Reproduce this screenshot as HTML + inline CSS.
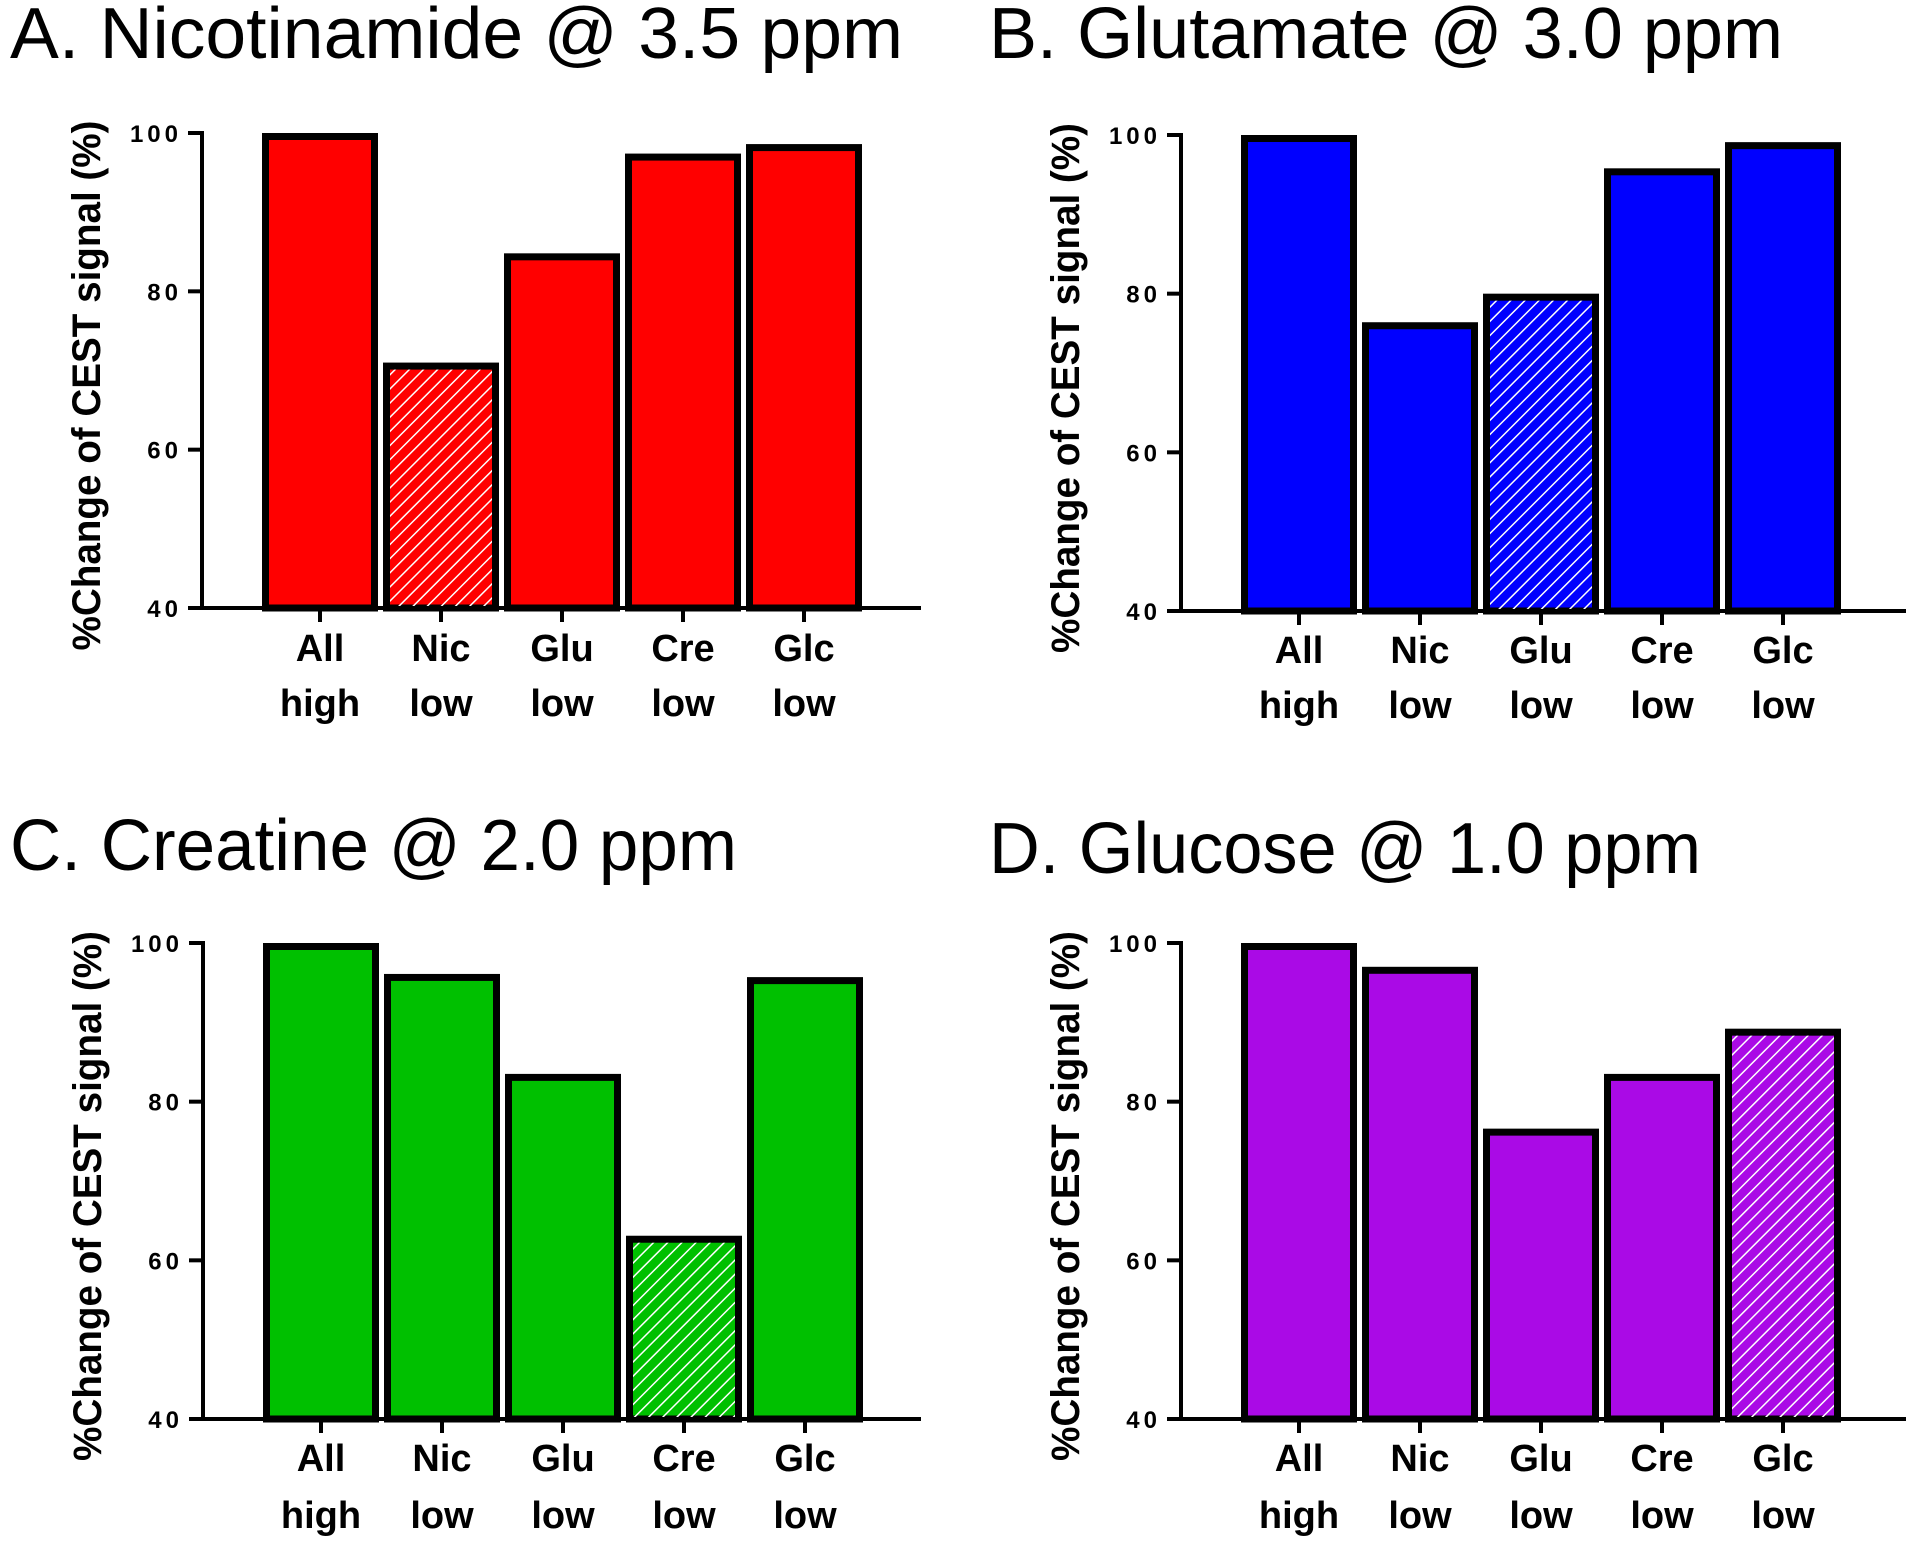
<!DOCTYPE html>
<html><head><meta charset="utf-8"><style>
html,body{margin:0;padding:0;background:#fff;}
svg{display:block;}
text{font-family:"Liberation Sans",sans-serif;}
</style></head><body>
<svg id="fig" width="1910" height="1548" viewBox="0 0 1910 1548" xmlns="http://www.w3.org/2000/svg">
<defs>
<pattern id="hatch" patternUnits="userSpaceOnUse" width="10" height="10" patternTransform="rotate(45)">
<rect width="10" height="10" fill="none"/>
<line x1="0" y1="0" x2="0" y2="10" stroke="#fff" stroke-width="3"/>
</pattern>
</defs>
</svg>
<script>
const categories = ["All|high","Nic|low","Glu|low","Cre|low","Glc|low"];
const yTicks = [40,60,80,100];
const valuesA = [100,71.0,84.8,97.4,98.6];
const valuesB = [100,76.4,80.0,95.8,99.1];
const valuesC = [100,96.1,83.5,63.1,95.7];
const valuesD = [100,97.0,76.6,83.5,89.2];
const titles = ["A. Nicotinamide @ 3.5 ppm","B. Glutamate @ 3.0 ppm","C. Creatine @ 2.0 ppm","D. Glucose @ 1.0 ppm"];
const colors = ["#ff0000","#0000ff","#00c000","#aa0ae6"];
const hatched = [1,2,3,4];

const NS="http://www.w3.org/2000/svg";
const svg=document.getElementById('fig');
function mk(tag,attrs,parent){const e=document.createElementNS(NS,tag);for(const k in attrs)e.setAttribute(k,attrs[k]);(parent||svg).appendChild(e);return e;}

const panels=[
 {ax:202,top:133,bot:608,right:921,tx:10,ty:58,tw:893,lb1:661,lb2:716,vals:valuesA},
 {ax:1181,top:135,bot:611,right:1906,tx:989,ty:58,tw:794,lb1:663,lb2:718,vals:valuesB},
 {ax:203,top:943,bot:1419,right:921,tx:10,ty:870,tw:727,lb1:1471,lb2:1528,vals:valuesC},
 {ax:1181,top:943,bot:1419,right:1906,tx:989,ty:873,tw:712,lb1:1471,lb2:1528,vals:valuesD}
];
const panelNames=["panel-a","panel-b","panel-c","panel-d"];
panels.forEach((p,pi)=>{
  const g=mk('g',{});
  
  
  const y=v=>p.bot-(v-40)/60*(p.bot-p.top);
  const x=i=>p.ax+118+i*121;
  const t=mk('text',{x:p.tx,y:p.ty,'font-size':72,textLength:p.tw,lengthAdjust:'spacingAndGlyphs',fill:'#000'},g);
  t.textContent=titles[pi];
  
  
  p.vals.forEach((v,i)=>{
    const r=mk('rect',{x:x(i)-54.5,y:y(v)+3.5,width:109,height:p.bot-y(v)-3.5,fill:colors[pi],stroke:'#000','stroke-width':7},g);
    
    
    if(hatched[pi]===i){
      const h=mk('rect',{x:x(i)-51,y:y(v)+7,width:102,height:p.bot-y(v)-7,fill:'url(#hatch)'},g);
      
      
    }
    const l1=mk('text',{x:x(i),y:p.lb1,'font-size':38,'font-weight':'bold','text-anchor':'middle',fill:'#000'},g);
    l1.textContent=categories[i].split('|')[0];
    
    
    const l2=mk('text',{x:x(i),y:p.lb2,'font-size':38,'font-weight':'bold','text-anchor':'middle',fill:'#000'},g);
    l2.textContent=categories[i].split('|')[1];
    
    
    mk('line',{x1:x(i),x2:x(i),y1:p.bot,y2:p.bot+14,stroke:'#000','stroke-width':4},g);
  });
  const ya=mk('line',{x1:p.ax,x2:p.ax,y1:p.top-2,y2:p.bot+2,stroke:'#000','stroke-width':4},g);
  
  
  const xa=mk('line',{x1:p.ax-14,x2:p.right,y1:p.bot,y2:p.bot,stroke:'#000','stroke-width':4},g);
  
  
  yTicks.forEach(v=>{
    mk('line',{x1:p.ax-14,x2:p.ax,y1:y(v),y2:y(v),stroke:'#000','stroke-width':4},g);
    const tl=mk('text',{x:p.ax-20,y:y(v)+9,'font-size':24,'font-weight':'bold','text-anchor':'end','letter-spacing':4,fill:'#000'},g);
    tl.textContent=v;
    
    
  });
  const cy=(p.top+p.bot)/2+15;
  const yt=mk('text',{x:0,y:0,'font-size':40,'font-weight':'bold','text-anchor':'middle',fill:'#000',textLength:530,lengthAdjust:'spacingAndGlyphs',transform:`translate(${p.ax-102},${cy}) rotate(-90)`},g);
  yt.textContent='%Change of CEST signal (%)';
  
  
});
</script>
</body></html>
